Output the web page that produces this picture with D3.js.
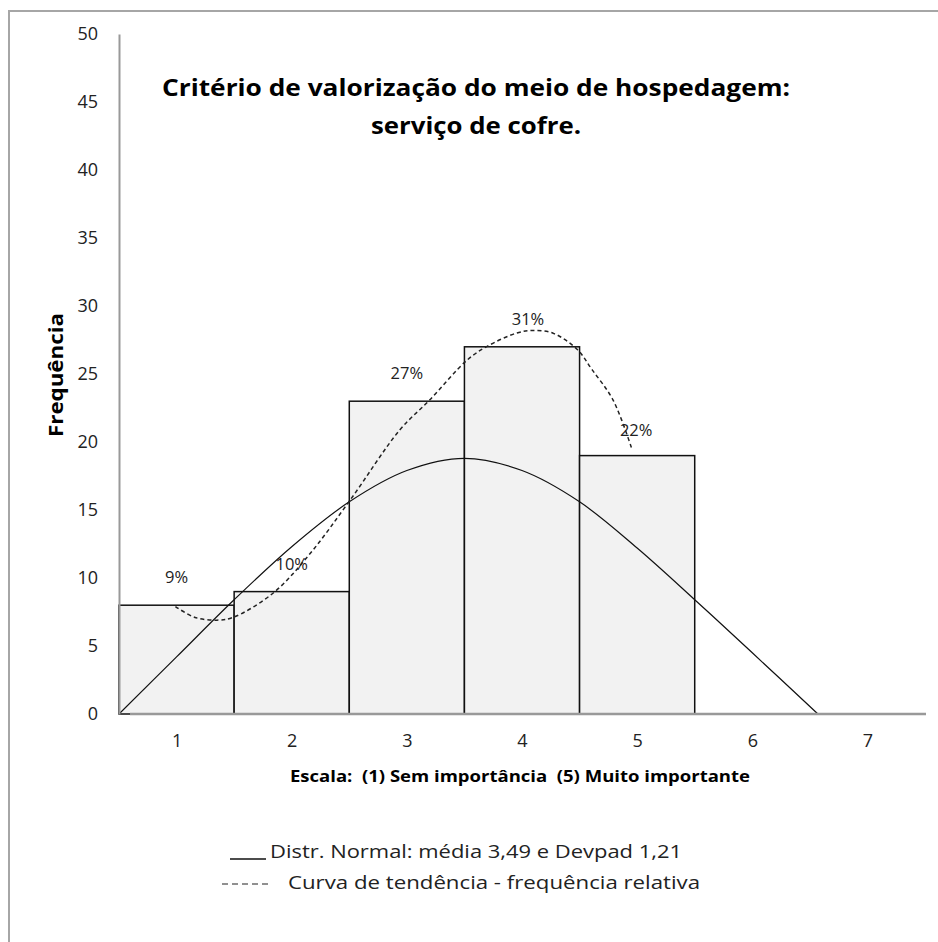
<html>
<head>
<script src="https://d3js.org/d3.v7.min.js"></script>
<style>
  body { margin: 0; background: #fff; }
  svg text { font-family: "Open Sans", "Noto Sans", sans-serif; fill: #222; }
</style>
</head>
<body>
<svg id="chart"></svg>
<script>
// scale values (1..7) and frequencies
var categories = [1, 2, 3, 4, 5, 6, 7];
var barCats = [1, 2, 3, 4, 5];
var frequencies = [8, 9, 23, 27, 19];
var percents = ["9%", "10%", "27%", "31%", "22%"];
var yTicks = [0, 5, 10, 15, 20, 25, 30, 35, 40, 45, 50];

// normal curve as drawn (x in scale units, y in frequency)
var normalX = [0.5, 1.0, 1.5, 2.0, 2.5, 3.0, 3.5, 4.0, 4.5, 5.0, 5.5, 6.0, 6.57];
var normalY = [0, 4.2, 8.4, 12.3, 15.6, 17.9, 18.8, 17.9, 15.6, 12.2, 8.4, 4.5, 0];

// trend curve of relative frequency (dashed)
var trendX = [0.99, 1.16, 1.35, 1.49, 1.84, 2.16, 2.505, 2.94, 3.2, 3.52, 3.69, 3.95, 4.09, 4.27, 4.48, 4.61, 4.79, 4.95];
var trendY = [7.9, 7.1, 6.9, 7.1, 8.9, 11.8, 15.7, 20.9, 23.1, 26.0, 27.0, 28.0, 28.2, 28.0, 26.8, 25.3, 23.1, 19.6];

var width = 938, height = 942;

var svg = d3.select("#chart").attr("width", width).attr("height", height);

// outer frame (only top/left visible)
svg.append("rect")
   .attr("x", 9).attr("y", 11)
   .attr("width", 960).attr("height", 960)
   .style("fill", "none").style("stroke", "#a6a6a6").style("stroke-width", 2);

var x = d3.scaleLinear().domain([0.5, 7.5]).range([119, 925]);
var y = d3.scaleLinear().domain([0, 50]).range([714, 34]);

// title
svg.append("text").attr("x", 476).attr("y", 96).attr("text-anchor", "middle")
   .style("font-size", "24px").style("font-weight", "bold").style("fill", "#000")
   .attr("textLength", 628).attr("lengthAdjust", "spacingAndGlyphs")
   .text("Critério de valorização do meio de hospedagem:");
svg.append("text").attr("x", 476).attr("y", 134).attr("text-anchor", "middle")
   .style("font-size", "24px").style("font-weight", "bold").style("fill", "#000")
   .attr("textLength", 210).attr("lengthAdjust", "spacingAndGlyphs")
   .text("serviço de cofre.");

// bars
svg.append("g").selectAll("rect")
   .data(frequencies)
   .enter()
   .append("rect")
   .attr("x", function(d, i) { return x(barCats[i] - 0.5); })
   .attr("y", function(d) { return y(d); })
   .attr("width", function(d, i) { return x(barCats[i] + 0.5) - x(barCats[i] - 0.5); })
   .attr("height", function(d) { return y(0) - y(d); })
   .style("fill", "#f2f2f2")
   .style("stroke", "#111")
   .style("stroke-width", 1.5);

// normal curve
var normalPts = normalX.map(function(v, i) { return [x(v), y(normalY[i])]; });
svg.append("path")
   .attr("d", d3.line().curve(d3.curveCatmullRom)(normalPts))
   .style("fill", "none").style("stroke", "#111").style("stroke-width", 1.2);

// trend curve
var trendPts = trendX.map(function(v, i) { return [x(v), y(trendY[i])]; });
svg.append("path")
   .attr("d", d3.line().curve(d3.curveCatmullRom)(trendPts))
   .style("fill", "none").style("stroke", "#222").style("stroke-width", 1.5)
   .style("stroke-dasharray", "4,3");

// percent labels
var labelDx = [0, 0, 0, 6, -1];
var labelDy = [22, 22, 22, 22, 20];
svg.append("g").selectAll("text")
   .data(percents)
   .enter()
   .append("text")
   .attr("x", function(d, i) { return x(barCats[i]) + labelDx[i]; })
   .attr("y", function(d, i) { return y(Math.max(frequencies[i], trendY[0])) - labelDy[i]; })
   .attr("text-anchor", "middle")
   .style("font-size", "16.5px")
   .text(function(d) { return d; });

// y axis
var yAxis = svg.append("g")
   .attr("transform", "translate(119,0)")
   .call(d3.axisLeft(y).tickValues(yTicks).tickSize(0).tickPadding(21));
yAxis.select(".domain").style("stroke", "#999").style("stroke-width", 2);
yAxis.selectAll("text")
   .style("font-size", "18px")
   .style("font-family", "'Open Sans', sans-serif")
   .style("fill", "#222");

// x axis
svg.append("line")
   .attr("x1", 130).attr("x2", 926).attr("y1", y(0)).attr("y2", y(0))
   .style("stroke", "#999").style("stroke-width", 2.5);
var xAxis = svg.append("g")
   .attr("transform", "translate(0," + y(0) + ")")
   .call(d3.axisBottom(x).tickValues(categories).tickFormat(d3.format("d")).tickSize(0).tickPadding(20));
xAxis.select(".domain").remove();
xAxis.selectAll("text")
   .style("font-size", "18px")
   .style("font-family", "'Open Sans', sans-serif")
   .style("fill", "#222");

// axis titles
svg.append("text")
   .attr("transform", "translate(63,375)rotate(-90)")
   .attr("text-anchor", "middle")
   .style("font-size", "20px").style("font-weight", "bold").style("fill", "#000")
   .attr("textLength", 124).attr("lengthAdjust", "spacingAndGlyphs")
   .text("Frequência");

svg.append("text")
   .attr("x", 520).attr("y", 782).attr("text-anchor", "middle")
   .style("font-size", "16px").style("font-weight", "bold").style("fill", "#000")
   .attr("textLength", 460).attr("lengthAdjust", "spacingAndGlyphs")
   .style("white-space", "pre")
   .text("Escala:  (1) Sem importância  (5) Muito importante");

// legend
svg.append("line")
   .attr("x1", 230).attr("x2", 266).attr("y1", 859).attr("y2", 859)
   .style("stroke", "#111").style("stroke-width", 1.5);
svg.append("text")
   .attr("x", 270).attr("y", 858)
   .style("font-size", "18px")
   .attr("textLength", 412).attr("lengthAdjust", "spacingAndGlyphs")
   .text("Distr. Normal: média 3,49 e Devpad 1,21");
svg.append("line")
   .attr("x1", 222).attr("x2", 268).attr("y1", 884).attr("y2", 884)
   .style("stroke", "#222").style("stroke-width", 1.2)
   .style("stroke-dasharray", "6,4");
svg.append("text")
   .attr("x", 288).attr("y", 889)
   .style("font-size", "18px")
   .attr("textLength", 412).attr("lengthAdjust", "spacingAndGlyphs")
   .text("Curva de tendência - frequência relativa");
</script>
</body>
</html>
